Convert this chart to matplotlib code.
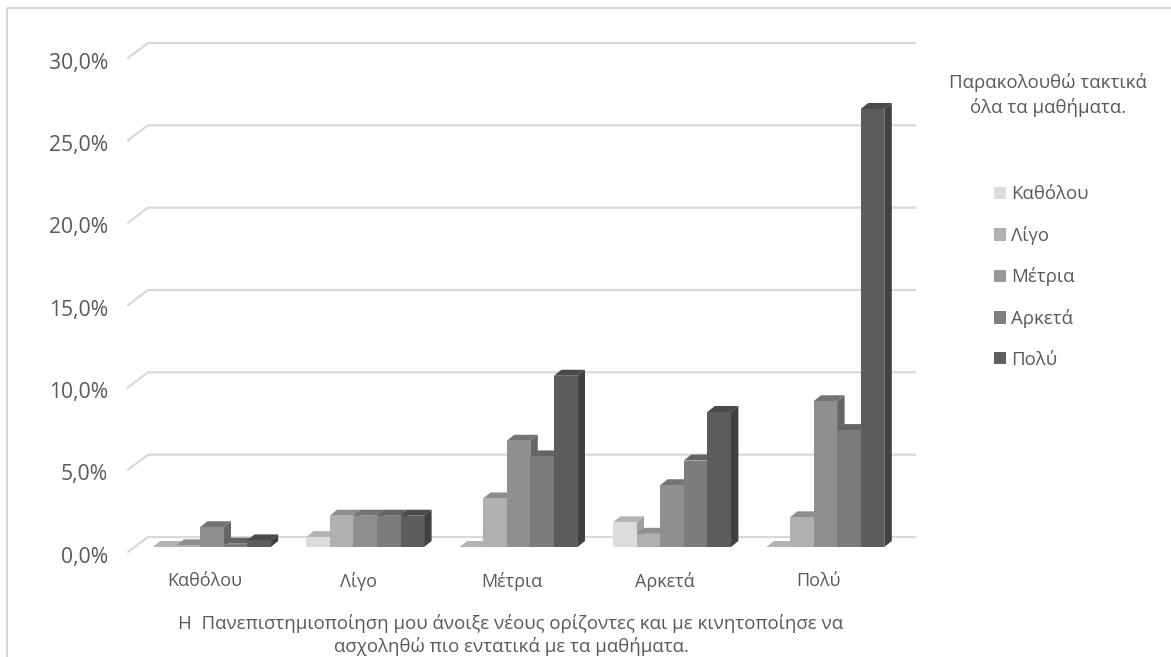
#!/usr/bin/env python3
"""Grouped pseudo-3D bar chart, greyscale."""

import matplotlib
matplotlib.use('Agg')
import matplotlib.pyplot as plt
from matplotlib.patches import Patch, Polygon
from matplotlib.transforms import ScaledTranslation

plt.rcParams['font.family'] = ['Open Sans', 'DejaVu Sans']

W, H = 1171, 657
TEXT = '#595959'

categories = ['Καθόλου', 'Λίγο', 'Μέτρια', 'Αρκετά', 'Πολύ']
series_names = ['Καθόλου', 'Λίγο', 'Μέτρια', 'Αρκετά', 'Πολύ']
katholou = [0.0, 0.6, 0.0, 1.5, 0.0]
ligo = [0.1, 1.9, 2.95, 0.8, 1.8]
metria = [1.2, 1.9, 6.45, 3.75, 8.85]
arketa = [0.2, 1.9, 5.5, 5.25, 7.1]
poly = [0.4, 1.9, 10.4, 8.2, 26.6]
series = [katholou, ligo, metria, arketa, poly]
yticks = [0, 5, 10, 15, 20, 25, 30]
ytick_labels = ['0,0%', '5,0%', '10,0%', '15,0%', '20,0%', '25,0%', '30,0%']

front = ['#dcdcdc', '#b0b0b0', '#8f8f8f', '#7c7c7c', '#5c5c5c']
top = ['#b4b4b4', '#8e8e8e', '#747474', '#646464', '#4a4a4a']
side = ['#a0a0a0', '#7e7e7e', '#666666', '#585858', '#404040']
swatch = ['#dcdcdc', '#b0b0b0', '#989898', '#7f7f7f', '#606060']

fig = plt.figure(figsize=(W / 100, H / 100), dpi=100)
fig.patch.set_facecolor('white')

# outer chart frame, only left and top are in the crop
fig.add_artist(plt.Line2D([6.5 / W, 6.5 / W, 1],
                          [0, 1 - 8 / H, 1 - 8 / H],
                          color='#d9d9d9', lw=1.5))

# axes = front edge of the floor, pixels 128-895 and 58-552
ax = fig.add_axes([128 / W, 1 - 552 / H, 767 / W, 494 / H])
ax.set_xlim(-0.5, 4.5)
ax.set_ylim(0, 30)
ax.patch.set_visible(False)
for s in ax.spines.values():
    s.set_visible(False)

px_x = 1 / 153.4
px_y = 30 / 494

# gridlines: diagonal on the side wall plus the back wall line
xmin, xmax = ax.get_xlim()
for y in yticks:
    ax.plot([xmin, xmin + 20 * px_x, xmax + 20 * px_x],
            [y, y + 15 * px_y, y + 15 * px_y],
            color='#d9d9d9', lw=1.6, clip_on=False, zorder=1, solid_joinstyle='miter')

bar_w = 23.6 * px_x
shift_x = 7 * px_x
base = 5 * px_y
dep_x = 7.5 * px_x
dep_y = 6 * px_y

z = 2
for i in range(len(categories)):
    for j, vals in enumerate(series):
        v = vals[i]
        x0 = i + shift_x + (j - 2.5) * bar_w
        x1 = x0 + bar_w
        y1 = base + v
        ax.add_patch(Polygon([(x0, y1), (x0 + dep_x, y1 + dep_y), (x1 + dep_x, y1 + dep_y), (x1, y1)],
                             facecolor=top[j], edgecolor='none', zorder=z))
        ax.add_patch(Polygon([(x1, base), (x1 + dep_x, base + dep_y), (x1 + dep_x, y1 + dep_y), (x1, y1)],
                             facecolor=side[j], edgecolor='none', zorder=z))
        ax.bar(x0, v, width=bar_w, bottom=base, align='edge', color=front[j],
               edgecolor='none', zorder=z + 0.5)
        z += 1

ax.set_xticks(range(len(categories)))
ax.set_xticklabels(categories, fontsize=13, color=TEXT)
ax.set_yticks(yticks)
ax.set_yticklabels(ytick_labels, fontsize=15.2, color=TEXT)
ax.tick_params(axis='x', length=0, pad=14.5)
ax.tick_params(axis='y', length=0, pad=14.4)
nudge = ScaledTranslation(0, -2 / 72, fig.dpi_scale_trans)
for t in ax.get_yticklabels():
    t.set_transform(t.get_transform() + nudge)

fig.text(511 / W, 1 - 635 / H,
         'Η  Πανεπιστημιοποίηση μου άνοιξε νέους ορίζοντες και με κινητοποίησε να\n'
         'ασχοληθώ πιο εντατικά με τα μαθήματα.',
         ha='center', va='center', fontsize=13.4, color=TEXT, linespacing=1.25)
fig.text(1048 / W, 1 - 95 / H, 'Παρακολουθώ τακτικά\nόλα τα μαθήματα.',
         ha='center', va='center', fontsize=13.4, color=TEXT, linespacing=1.4)

handles = [Patch(facecolor=c, edgecolor='none') for c in swatch]
fig.legend(handles, series_names, loc='center left',
           bbox_to_anchor=(977 / W, 1 - 277 / H), frameon=False, fontsize=13.4,
           labelcolor=TEXT, handlelength=0.65, handleheight=0.65, handletextpad=0.3,
           labelspacing=1.21)

fig.savefig('out.png', dpi=100)
plt.close()
